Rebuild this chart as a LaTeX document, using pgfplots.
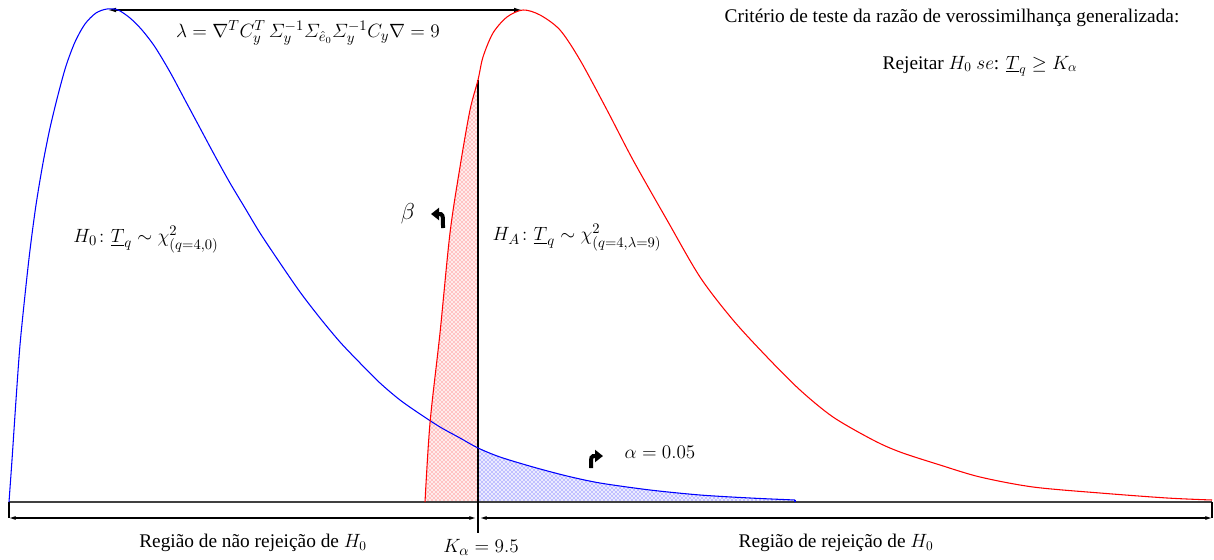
\documentclass[border=0pt]{standalone}
\usepackage{amsmath}
\usepackage{fontspec}
\setmainfont{Liberation Serif}
\usepackage{pgfplots}
\pgfplotsset{compat=1.18}
\usetikzlibrary{patterns,arrows.meta}
\begin{document}
\begin{tikzpicture}
\begin{axis}[width=910.5pt, height=420pt, scale only axis,
  xmin=0, xmax=1214, ymin=0, ymax=560, y dir=reverse,
  axis lines=none, clip=false]
\path (axis cs:0,0) rectangle (axis cs:1214,560);
% fills
\addplot[draw=none, fill=red!8, postaction={pattern=crosshatch dots, pattern color=red!75}] coordinates {
(425,502) (430,423) (440,333) (450,233) (460,167) (470,110) (478,80) (478,502)} -- cycle;
\addplot[draw=none, fill=blue!8, postaction={pattern=crosshatch dots, pattern color=blue!80}] coordinates {
(478,448) (500,457) (533,467) (567,476) (600,483) (650,490) (700,495) (750,498) (795,500) (795,502) (478,502)} -- cycle;
% baseline and dimension lines
\addplot[black!75, line width=0.9pt] coordinates {(9,502) (1212,502)};
\addplot[black, line width=0.8pt] coordinates {(9,502) (9,518)};
\addplot[black, line width=0.8pt] coordinates {(1212,502) (1212,518)};
\addplot[black, line width=0.8pt, {Latex[length=5pt,width=3pt]}-{Latex[length=5pt,width=3pt]}] coordinates {(9,518) (476,518)};
\addplot[black, line width=0.8pt, {Latex[length=5pt,width=3pt]}-{Latex[length=5pt,width=3pt]}] coordinates {(480,518) (1212,518)};
\addplot[black, line width=0.8pt] coordinates {(478,80) (478,533)};
\addplot[black, line width=0.8pt, {Latex[length=6pt,width=3.5pt]}-{Latex[length=6pt,width=3.5pt]}] coordinates {(108,10) (522,10)};
% blue curve H0
\addplot[blue, line width=0.8pt, smooth, tension=0.5] coordinates {
(9,502) (12,460) (16,400) (20,345) (25,295) (30,250) (36,205) (43,163) (50,128) (58,95) (66,66) (75,42) (85,24) (96,13) (107,9) (118,10) (130,18) (142,30) (155,47) (170,72) (185,100) (200,128) (215,156) (230,183) (245,208) (260,233) (280,263) (300,292) (320,318) (340,342) (360,363) (380,383) (400,400) (420,414) (440,427) (460,438) (478,448) (500,457) (533,467) (567,476) (600,483) (650,490) (700,495) (750,498) (795,500)};
\addplot[blue, line width=0.8pt] coordinates {(795,500) (795,502)};
% red curve HA
\addplot[red, line width=0.8pt, smooth, tension=0.5] coordinates {
(425,502) (430,423) (440,333) (450,233) (460,167) (470,110) (478,80) (483,57) (493,33) (507,17) (523,10) (540,15) (560,30) (580,60) (607,110) (633,160) (667,220) (700,277) (733,320) (767,357) (800,390) (833,417) (873,440) (900,452) (940,465) (980,477) (1033,487) (1100,493) (1167,498) (1212,500)};
% curved arrows
\draw[line width=3pt, -{Triangle[length=6pt,width=9pt]}] (axis cs:443,228) .. controls (axis cs:443,214) .. (axis cs:431,214);
\draw[line width=3pt, -{Triangle[length=6pt,width=9pt]}] (axis cs:591,468) .. controls (axis cs:591,456) .. (axis cs:603,456);
% texts
\node[font=\fontsize{15}{17}\selectfont] at (axis cs:308,33) {$\lambda = \nabla^{T} C_y^{T}\,\varSigma_y^{-1}\varSigma_{\hat{e}_0}\varSigma_y^{-1} C_y \nabla = 9$};
\node[font=\fontsize{14.5}{17}\selectfont] at (axis cs:952,18) {Critério de teste da razão de verossimilhança generalizada:};
\node[font=\fontsize{14.5}{17}\selectfont] at (axis cs:980,66) {Rejeitar $H_0$ $se$: $\underline{T}_q \geq K_\alpha$};
\node[font=\fontsize{15}{17}\selectfont] at (axis cs:146,240) {$H_0\colon \underline{T}_q \sim \chi^2_{(q=4,0)}$};
\node[font=\fontsize{15}{17}\selectfont] at (axis cs:577,238) {$H_A\colon \underline{T}_q \sim \chi^2_{(q=4,\lambda=9)}$};
\node[font=\fontsize{16}{18}\selectfont] at (axis cs:408,214) {$\beta$};
\node[font=\fontsize{15}{17}\selectfont] at (axis cs:660,452) {$\alpha = 0.05$};
\node[font=\fontsize{14.5}{17}\selectfont] at (axis cs:253,543) {Região de não rejeição de $H_0$};
\node[font=\fontsize{15}{17}\selectfont] at (axis cs:481,547) {$K_\alpha = 9.5$};
\node[font=\fontsize{14.5}{17}\selectfont] at (axis cs:836,543) {Região de rejeição de $H_0$};
\end{axis}
\end{tikzpicture}
\end{document}
